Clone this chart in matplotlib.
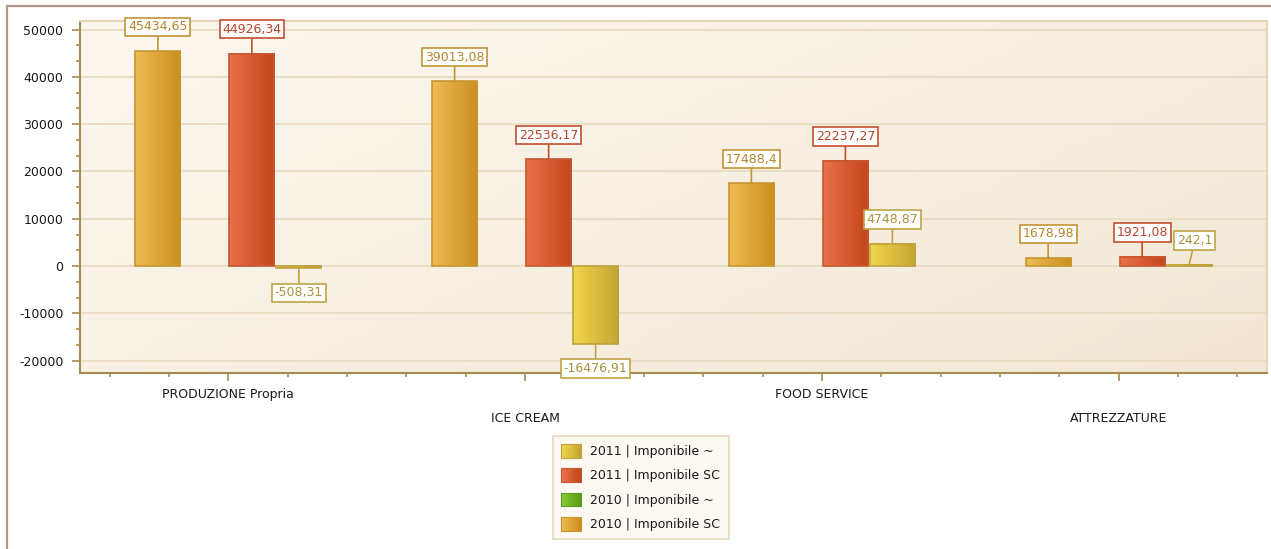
import numpy as np
import matplotlib
matplotlib.use("Agg")
import matplotlib.pyplot as plt
from matplotlib.colors import LinearSegmentedColormap
from matplotlib.legend_handler import HandlerBase
from matplotlib.patches import Rectangle
from matplotlib.lines import Line2D
from matplotlib.ticker import MultipleLocator

# data
categories = ["PRODUZIONE Propria", "ICE CREAM", "FOOD SERVICE", "ATTREZZATURE"]
sc_2010 = [45434.65, 39013.08, 17488.4, 1678.98]
tilde_2010 = [None, None, None, None]          # series in legend, no bars drawn
sc_2011 = [44926.34, 22536.17, 22237.27, 1921.08]
tilde_2011 = [-508.31, -16476.91, 4748.87, 242.1]
y_ticks = [-20000, -10000, 0, 10000, 20000, 30000, 40000, 50000]

# styles: (gradient left, gradient right, bar edge, label text, label edge)
styles = {
    "2010 SC": ("#EEBB55", "#CB8F1E", "#C6952F", "#B5852A", "#C49436"),
    "2010 ~": ("#86C83C", "#5A9E12", "#5E9A1E", "#4E8A14", "#6AA52A"),
    "2011 SC": ("#E9724A", "#C3451B", "#C65731", "#B8452A", "#C2502E"),
    "2011 ~": ("#F1D54C", "#C4A535", "#BFA23E", "#A8923A", "#BFA545"),
}

fig = plt.figure(figsize=(12.71, 5.49), dpi=100)
ax = fig.add_axes([80 / 1271, 1 - 373 / 549, 1187 / 1271, 352 / 549])

# plot area background, soft diagonal gradient
bg = LinearSegmentedColormap.from_list("bg", ["#FCF8F0", "#F2E7D4"])
gx, gy = np.meshgrid(np.linspace(0, 1, 100), np.linspace(0, 1, 50))
ax.imshow(gx * 0.6 + gy * 0.4, cmap=bg, extent=[0, 1, 0, 1], transform=ax.transAxes,
          aspect="auto", zorder=0, origin="upper")

slot = 0.1584
width = 0.152
x = np.arange(len(categories))
series = [("2010 SC", sc_2010), ("2010 ~", tilde_2010), ("2011 SC", sc_2011), ("2011 ~", tilde_2011)]

# label offsets in points (dx) for crowded labels
label_dx = {("2011 ~", 3): 4}

for k, (name, vals) in enumerate(series):
    c0, c1, ec, tc, lc = styles[name]
    cmap = LinearSegmentedColormap.from_list(name, [c0, c1])
    for i, v in enumerate(vals):
        if v is None:
            continue
        xc = x[i] + (k - 1.5) * slot
        bar = ax.bar(xc, v, width=width, facecolor="none", edgecolor=ec, linewidth=1.2, zorder=3)[0]
        x0, y0 = bar.get_x(), min(0, v)
        ax.imshow(np.linspace(0, 1, 64).reshape(1, -1), cmap=cmap,
                  extent=[x0, x0 + width, y0, y0 + abs(v)], aspect="auto", zorder=2)
        dy = 17.5 if v >= 0 else -17.5
        dx = label_dx.get((name, i), 0)
        ax.annotate(str(v).replace(".", ","), xy=(xc, v), xytext=(dx, dy), textcoords="offset points",
                    ha="center", va="center", fontsize=9, color=tc, zorder=5,
                    bbox=dict(boxstyle="square,pad=0.22", facecolor="white", edgecolor=lc, linewidth=1.2),
                    arrowprops=dict(arrowstyle="-", color=lc, lw=1.2, shrinkA=0, shrinkB=0))

ax.set_xlim(-0.5, 3.5)
ax.set_ylim(-22600, 51800)

ax.set_yticks(y_ticks)
ax.set_yticklabels([str(t) for t in y_ticks])
ax.yaxis.set_minor_locator(MultipleLocator(10000 / 3))
ax.set_xticks(x)
ax.set_xticklabels([])
ax.xaxis.set_minor_locator(MultipleLocator(0.2))

axis_col = "#A88B50"
ax.tick_params(axis="both", which="major", direction="out", length=6, width=1.2, color=axis_col,
               labelsize=9, labelcolor="#1A1A1A")
ax.tick_params(axis="y", which="major", pad=6)
ax.tick_params(axis="both", which="minor", direction="out", length=3, width=1.2, color=axis_col)

ax.grid(axis="y", which="major", color="#E9DCC3", linewidth=1.3, zorder=1)
ax.set_axisbelow(True)

for s in ["left", "bottom"]:
    ax.spines[s].set_color(axis_col)
    ax.spines[s].set_linewidth(1.5)
for s in ["top", "right"]:
    ax.spines[s].set_color("#E4D5B7")
    ax.spines[s].set_linewidth(1.5)

# staggered category labels
for i, cat in enumerate(categories):
    off = -15.8 if i % 2 == 0 else -32.4
    ax.annotate(cat, xy=(x[i], 0), xycoords=("data", "axes fraction"), xytext=(0, off),
                textcoords="offset points", ha="center", va="center", fontsize=9, color="#1A1A1A")


# legend with gradient swatches
class Swatch:
    def __init__(self, c0, c1, ec):
        self.c0, self.c1, self.ec = c0, c1, ec


class SwatchHandler(HandlerBase):
    def create_artists(self, legend, h, xdescent, ydescent, width, height, fontsize, trans):
        cmap = LinearSegmentedColormap.from_list("sw", [h.c0, h.c1])
        n = 12
        arts = []
        for j in range(n):
            arts.append(Rectangle((-xdescent + width * j / n, -ydescent), width / n + 0.3, height,
                                  facecolor=cmap(j / (n - 1)), edgecolor="none", transform=trans))
        arts.append(Rectangle((-xdescent, -ydescent), width, height, facecolor="none",
                              edgecolor=h.ec, linewidth=0.8, transform=trans))
        return arts


legend_order = [("2011 ~", "2011 | Imponibile ~"), ("2011 SC", "2011 | Imponibile SC"),
                ("2010 ~", "2010 | Imponibile ~"), ("2010 SC", "2010 | Imponibile SC")]
handles = [Swatch(*styles[n][:3]) for n, _ in legend_order]
labels = [lab for _, lab in legend_order]
leg = fig.legend(handles, labels, handler_map={Swatch: SwatchHandler()},
                 loc="upper left", bbox_to_anchor=(553 / 1271, 1 - 436 / 549), borderaxespad=0,
                 fontsize=9, handlelength=1.6, handleheight=1.3, handletextpad=0.75,
                 labelspacing=0.82, borderpad=0.65, fancybox=False, framealpha=1)
leg.get_frame().set_facecolor("#FCF9F2")
leg.get_frame().set_edgecolor("#E6D9BC")
leg.get_frame().set_linewidth(1.2)
for t in leg.get_texts():
    t.set_color("#1A1A1A")

# outer frame lines (top and left)
border = "#B09A8C"
fig.add_artist(Line2D([7 / 1271, 1], [1 - 6 / 549, 1 - 6 / 549], transform=fig.transFigure,
                      color=border, linewidth=1.6))
fig.add_artist(Line2D([7 / 1271, 7 / 1271], [0, 1 - 6 / 549], transform=fig.transFigure,
                      color=border, linewidth=1.6))

fig.savefig("out.png", dpi=100)
